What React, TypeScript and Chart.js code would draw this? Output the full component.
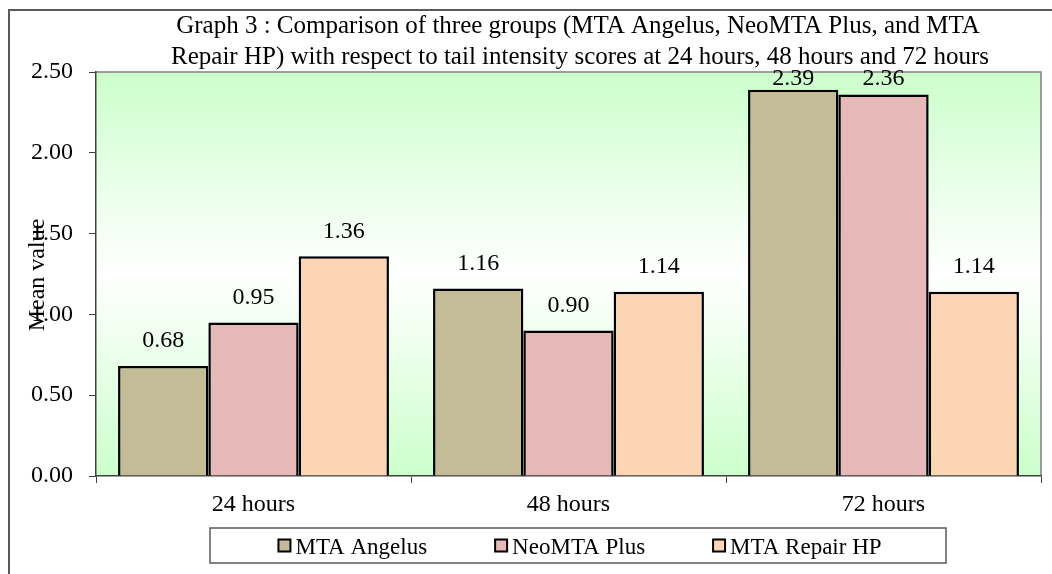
import React, { useEffect, useRef } from "react";
import { Chart, registerables } from "chart.js";

Chart.register(...registerables);

const categories = ["24 hours", "48 hours", "72 hours"];
const seriesNames = ["MTA Angelus", "NeoMTA Plus", "MTA Repair HP"];
const mtaAngelus = [0.68, 1.16, 2.39];
const neoMtaPlus = [0.95, 0.9, 2.36];
const mtaRepairHP = [1.36, 1.14, 1.14];
const yTicks = [0, 0.5, 1, 1.5, 2, 2.5];
const titleLines = [
  "Graph 3 : Comparison of three groups (MTA Angelus, NeoMTA Plus, and MTA",
  "Repair HP) with respect to tail intensity scores at 24 hours, 48 hours and 72 hours",
];
const yTitle = "Mean value";
const seriesColors = ["#C4BC96", "#E6B8B7", "#FCD5B4"];

const FONT = "'Liberation Serif', 'Times New Roman', serif";

const decor = {
  id: "decor",
  beforeDraw(chart: any) {
    const { ctx, chartArea: a, width, height } = chart;
    ctx.save();
    ctx.fillStyle = "#ffffff";
    ctx.fillRect(0, 0, width, height);
    // outer frame
    ctx.strokeStyle = "#5a5a5a";
    ctx.lineWidth = 2;
    ctx.beginPath();
    ctx.moveTo(9, height + 5);
    ctx.lineTo(9, 10);
    ctx.lineTo(width + 5, 10);
    ctx.stroke();
    // plot background gradient
    const g = ctx.createLinearGradient(0, a.top, 0, a.bottom);
    g.addColorStop(0, "#ccffcc");
    g.addColorStop(0.5, "#ffffff");
    g.addColorStop(1, "#ccffcc");
    ctx.fillStyle = g;
    ctx.fillRect(a.left, a.top, a.right - a.left, a.bottom - a.top);
    ctx.strokeStyle = "#808080";
    ctx.lineWidth = 1.5;
    ctx.beginPath();
    ctx.moveTo(a.left, a.top);
    ctx.lineTo(a.right, a.top);
    ctx.lineTo(a.right, a.bottom);
    ctx.stroke();
    ctx.restore();
  },
  afterDatasetsDraw(chart: any) {
    const { ctx, chartArea: a } = chart;
    ctx.save();
    ctx.font = `24px ${FONT}`;
    ctx.fillStyle = "#000";
    ctx.textAlign = "center";
    ctx.textBaseline = "middle";
    chart.data.datasets.forEach((ds: any, i: number) => {
      const meta = chart.getDatasetMeta(i);
      meta.data.forEach((el: any, j: number) => {
        const y = Math.max(el.y - 25, a.top + 7);
        ctx.fillText(Number(ds.data[j]).toFixed(2), el.x, y);
      });
    });
    ctx.restore();
  },
  afterDraw(chart: any) {
    const { ctx, chartArea: a } = chart;
    ctx.save();
    ctx.fillStyle = "#000";
    // title
    ctx.font = `25px ${FONT}`;
    ctx.textAlign = "center";
    ctx.textBaseline = "alphabetic";
    ctx.fillText(titleLines[0], 578, 33);
    ctx.fillText(titleLines[1], 580, 64);
    // y title
    ctx.font = `24px ${FONT}`;
    ctx.save();
    ctx.translate(44, (a.top + a.bottom) / 2 + 1);
    ctx.rotate(-Math.PI / 2);
    ctx.textAlign = "center";
    ctx.textBaseline = "alphabetic";
    ctx.fillText(yTitle, 0, 0);
    ctx.restore();
    // legend
    const bx = 210, by = 528, bw = 736, bh = 35;
    ctx.fillStyle = "#fff";
    ctx.fillRect(bx, by, bw, bh);
    ctx.strokeStyle = "#5a5a5a";
    ctx.lineWidth = 1.5;
    ctx.strokeRect(bx, by, bw, bh);
    ctx.font = `23px ${FONT}`;
    ctx.textAlign = "left";
    ctx.textBaseline = "alphabetic";
    const sq = 12, gapSq = 5, gapItem = 68;
    const widths = seriesNames.map((n) => sq + gapSq + ctx.measureText(n).width);
    const total = widths.reduce((s, w) => s + w, 0) + gapItem * (seriesNames.length - 1);
    let x = 580 - total / 2;
    const cy = by + bh / 2;
    seriesNames.forEach((n, i) => {
      ctx.fillStyle = seriesColors[i];
      ctx.fillRect(x, cy - sq / 2, sq, sq);
      ctx.strokeStyle = "#000";
      ctx.lineWidth = 2;
      ctx.strokeRect(x, cy - sq / 2, sq, sq);
      ctx.fillStyle = "#000";
      ctx.fillText(n, x + sq + gapSq, cy + 8);
      x += widths[i] + gapItem;
    });
    ctx.restore();
  },
};

export default function App() {
  const ref = useRef<HTMLCanvasElement>(null);
  useEffect(() => {
    const series = [mtaAngelus, neoMtaPlus, mtaRepairHP];
    const chart = new Chart(ref.current as HTMLCanvasElement, {
      type: "bar",
      data: {
        labels: categories,
        datasets: series.map((d, i) => ({
          label: seriesNames[i],
          data: d,
          backgroundColor: seriesColors[i],
          borderColor: "#000",
          borderWidth: 2.5,
          categoryPercentage: 0.86,
          barPercentage: 1.0,
        })),
      },
      options: {
        responsive: false,
        animation: false,
        devicePixelRatio: 1,
        layout: { padding: { top: 72, right: 11, bottom: 50, left: 0 } },
        plugins: {
          legend: { display: false },
          title: { display: false },
          tooltip: { enabled: false },
        },
        scales: {
          x: {
            grid: { offset: true, drawOnChartArea: false, drawTicks: true, tickLength: 7, color: "#404040", lineWidth: 1 },
            border: { display: true, color: "#404040", width: 1.5 },
            ticks: { font: { family: FONT, size: 24 }, color: "#000", padding: 7, maxRotation: 0 },
            afterFit: (s: any) => {
              s.height = 48;
            },
          },
          y: {
            min: 0,
            max: 2.5,
            afterBuildTicks: (s: any) => {
              s.ticks = yTicks.map((v) => ({ value: v }));
            },
            grid: { drawOnChartArea: false, drawTicks: true, tickLength: 7, color: "#404040", lineWidth: 1 },
            border: { display: true, color: "#404040", width: 1.5 },
            ticks: {
              font: { family: FONT, size: 24 },
              color: "#000",
              padding: 16,
              callback: (v: any) => Number(v).toFixed(2),
            },
            afterFit: (s: any) => {
              s.width = 96;
            },
          },
        },
      },
      plugins: [decor],
    });
    return () => chart.destroy();
  }, []);
  return (
    <div style={{ position: "absolute", left: 0, top: 0, width: 1052, height: 574 }}>
      <canvas ref={ref} width={1052} height={574} style={{ display: "block", width: 1052, height: 574 }} />
    </div>
  );
}
